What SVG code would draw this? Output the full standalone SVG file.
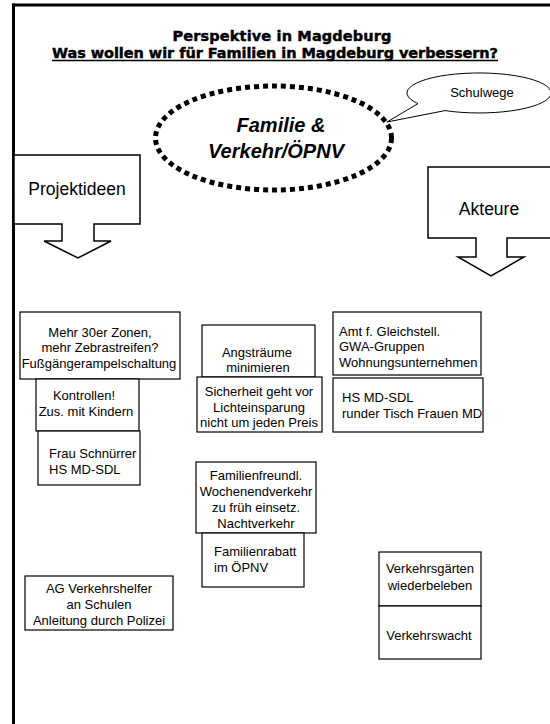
<svg xmlns="http://www.w3.org/2000/svg" width="550" height="724" viewBox="0 0 550 724">
<style>
.t{font-family:"Liberation Sans",Arial,sans-serif;font-size:13px;fill:#000}
.m{text-anchor:middle}
.box{fill:#fff;stroke:#000;stroke-width:1.2}
.ttl{font-family:"DejaVu Sans",sans-serif;font-weight:bold;font-size:14.5px;fill:#000;stroke:#000;stroke-width:0.45;text-anchor:middle}
.big{font-family:"Liberation Sans",Arial,sans-serif;font-size:20px;font-weight:bold;font-style:italic;fill:#000;text-anchor:middle}
.lab{font-family:"Liberation Sans",Arial,sans-serif;font-size:17.5px;fill:#000;text-anchor:middle}
.arr{fill:#fff;stroke:#000;stroke-width:1.5;stroke-linejoin:miter}
</style>
<rect width="550" height="724" fill="#fff"/>
<g id="frame">
<line x1="13.5" y1="3.5" x2="13.5" y2="724" stroke="#000" stroke-width="3"/>
<line x1="12" y1="5" x2="550" y2="5" stroke="#000" stroke-width="3"/>
</g>
<g id="title">
<text class="ttl" x="282" y="41" textLength="219">Perspektive in Magdeburg</text>
<text class="ttl" x="275" y="58" textLength="446">Was wollen wir für Familien in Magdeburg verbessern?</text>
<line x1="52" y1="60.5" x2="498" y2="60.5" stroke="#000" stroke-width="1.6"/>
</g>
<g id="topic">
<ellipse cx="273.5" cy="138" rx="118" ry="52" fill="none" stroke="#000" stroke-width="5" stroke-dasharray="5 4"/>
<text class="big" x="281" y="132">Familie &amp;</text>
<text class="big" x="276" y="158">Verkehr/ÖPNV</text>
</g>
<g id="schulwege">
<path d="M418 103.6 L387 122 L445 110.6 A72 20 0 1 0 418 103.6 Z" fill="#fff" stroke="#000" stroke-width="1"/>
<text class="t m" x="482" y="97">Schulwege</text>
</g>
<g id="projektideen">
<path class="arr" d="M14 155 H140 V224 H94 V241 H111 L78 258 L44 241 H62 V224 H14 Z"/>
<text class="lab" x="77" y="195">Projektideen</text>
</g>
<g id="akteure">
<path class="arr" d="M428 167 H556 V238 H507 V257 H524 L491 276 L458 257 H476 V238 H428 Z"/>
<text class="lab" x="489" y="215">Akteure</text>
</g>
<g id="n-zonen">
<rect class="box" x="20" y="312" width="160" height="67"/>
<text class="t m" x="100" y="337">Mehr 30er Zonen,</text>
<text class="t m" x="100" y="352">mehr Zebrastreifen?</text>
<text class="t m" x="99" y="368">Fußgängerampelschaltung</text>
</g>
<g id="n-kontrollen">
<rect class="box" x="36" y="379" width="103" height="52"/>
<text class="t m" x="84" y="400">Kontrollen!</text>
<text class="t m" x="86" y="416">Zus. mit Kindern</text>
</g>
<g id="n-schnuerrer">
<rect class="box" x="38" y="431" width="102" height="54"/>
<text class="t" x="49" y="458">Frau Schnürrer</text>
<text class="t" x="49" y="474">HS MD-SDL</text>
</g>
<g id="n-angst">
<rect class="box" x="202" y="325" width="113" height="52"/>
<text class="t m" x="257" y="357">Angsträume</text>
<text class="t m" x="258" y="372">minimieren</text>
</g>
<g id="n-sicherheit">
<rect class="box" x="197" y="377" width="125" height="55"/>
<text class="t m" x="259" y="396">Sicherheit geht vor</text>
<text class="t m" x="259" y="412">Lichteinsparung</text>
<text class="t m" x="259" y="427">nicht um jeden Preis</text>
</g>
<g id="n-amt">
<rect class="box" x="333" y="312" width="148" height="63"/>
<text class="t" x="339" y="336">Amt f. Gleichstell.</text>
<text class="t" x="339" y="351">GWA-Gruppen</text>
<text class="t" x="339" y="367">Wohnungsunternehmen</text>
</g>
<g id="n-hs">
<rect class="box" x="333" y="378" width="150" height="54"/>
<text class="t" x="342" y="402">HS MD-SDL</text>
<text class="t" x="342" y="418">runder Tisch Frauen MD</text>
</g>
<g id="n-wochenende">
<rect class="box" x="196" y="462" width="120" height="71"/>
<text class="t m" x="256" y="480">Familienfreundl.</text>
<text class="t m" x="256" y="496">Wochenendverkehr</text>
<text class="t m" x="256" y="512">zu früh einsetz.</text>
<text class="t m" x="256" y="528">Nachtverkehr</text>
</g>
<g id="n-rabatt">
<rect class="box" x="202" y="533" width="102" height="54"/>
<text class="t" x="214" y="556">Familienrabatt</text>
<text class="t" x="214" y="572">im ÖPNV</text>
</g>
<g id="n-ag">
<rect class="box" x="25" y="576" width="148" height="54"/>
<text class="t m" x="99" y="593">AG Verkehrshelfer</text>
<text class="t m" x="99" y="609">an Schulen</text>
<text class="t m" x="99" y="625">Anleitung durch Polizei</text>
</g>
<g id="n-gaerten">
<rect class="box" x="379" y="552" width="102" height="54"/>
<text class="t m" x="430" y="573">Verkehrsgärten</text>
<text class="t m" x="430" y="590">wiederbeleben</text>
</g>
<g id="n-wacht">
<rect class="box" x="379" y="606" width="102" height="53"/>
<text class="t m" x="429" y="640">Verkehrswacht</text>
</g>
</svg>
